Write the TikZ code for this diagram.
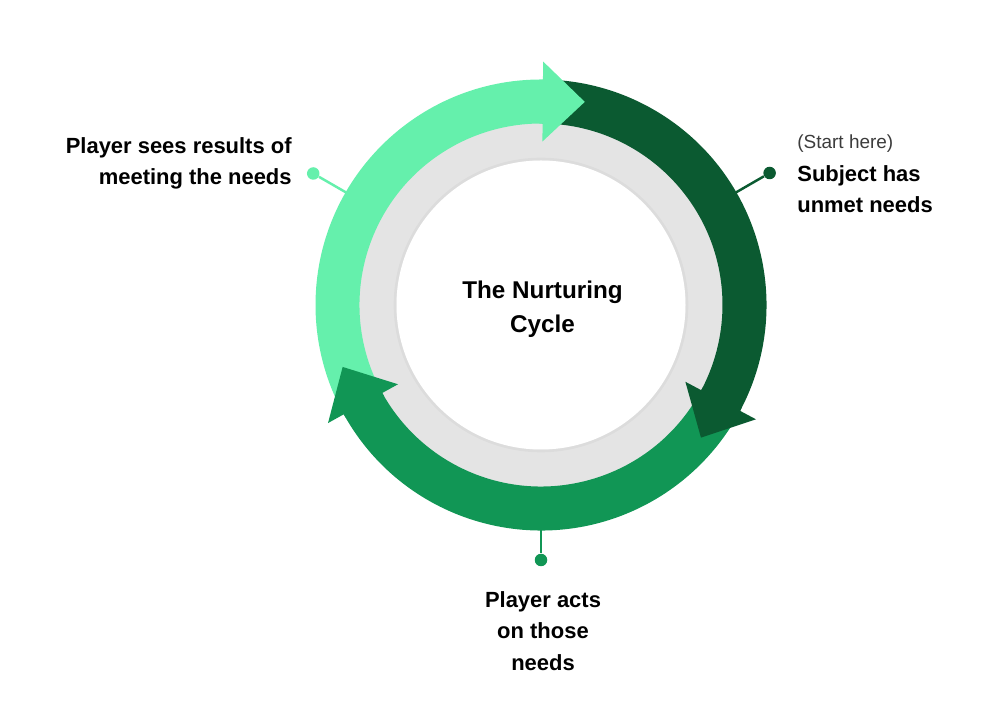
\documentclass[tikz,border=0pt]{standalone}
\usepackage{fontspec}
\setmainfont{Liberation Sans}
\usepackage{tikz}
\usetikzlibrary{calc}

\definecolor{lightgreen}{RGB}{101,240,172}
\definecolor{midgreen}{RGB}{17,150,85}
\definecolor{darkgreen}{RGB}{11,90,49}
\definecolor{ringgray}{RGB}{228,228,228}
\definecolor{softgray}{RGB}{60,60,60}

\tikzset{
  dot/.style={circle, inner sep=0pt, minimum size=0.25cm},
  stem/.style={line width=1.4pt},
  label/.style={font=\bfseries\fontsize{12.5}{18}\selectfont, inner sep=0pt},
}

% one piece of the ring, from angle #2 to angle #3
\newcommand{\ringpart}[3]{
  \fill[#1] (#2:181.5) arc[start angle=#2, end angle=#3, radius=181.5]
    -- (#3:225.5) arc[start angle=#3, end angle=#2, radius=225.5] -- cycle;}
% arrow head whose base sits at angle #2 (overlaps its own shaft a little)
\newcommand{\ringhead}[2]{
  \fill[#1] ({#2+1}:181.5) -- (#2:181.5) -- (#2:163.5)
    -- ($(#2:203.5)+({#2-90}:42)$)
    -- (#2:243.5) -- (#2:225.5) -- ({#2+1}:225.5) -- cycle;}

\begin{document}
\begin{tikzpicture}[x=0.02cm, y=0.02cm]
  \useasboundingbox (-541,-407) rectangle (459,305);

  % grey ring and white middle
  \fill[ringgray] (0,0) circle (182);
  \fill[white] (0,0) circle (144.5);
  \draw[black, opacity=0.03, line width=1.5pt] (0,0) circle (146);
  \node[font=\bfseries\fontsize{13.8}{19.3}\selectfont, align=center, inner sep=0pt] (title) at (1.5,-4) {The Nurturing\\Cycle};

  % connectors
  \coordinate (lightfoot) at (150:225);
  \coordinate (darkfoot) at (30:225);
  \coordinate (midfoot) at (-90:225);
  \node[dot, fill=lightgreen] (lightdot) at (150:263) {};
  \node[dot, fill=darkgreen] (darkdot) at (30:264) {};
  \node[dot, fill=midgreen] (middot) at (-90:255) {};
  \draw[stem, lightgreen] (lightfoot) -- (lightdot);
  \draw[stem, darkgreen] (darkfoot) -- (darkdot);
  \draw[stem, midgreen] (midfoot) -- (middot);

  % the three arrows
  \ringpart{lightgreen}{209}{88.5}
  \ringpart{darkgreen}{89.5}{-29}
  \ringpart{midgreen}{-28}{-152}
  \ringhead{lightgreen}{89.5}
  \ringhead{darkgreen}{-28}
  \ringhead{midgreen}{-151}

  % labels
  \node[label, align=right, anchor=north east] (results) at (-249,168) {Player sees results of\\meeting the needs};
  \node[font=\fontsize{10.8}{13}\selectfont, text=softgray, inner sep=0pt, anchor=base west] (start) at (256,156) {(Start here)};
  \node[label, align=left, anchor=north west] (subject) at (256,140) {Subject has\\unmet needs};
  \node[label, align=center, anchor=north] (acts) at (2,-286) {Player acts\\on those\\needs};
\end{tikzpicture}
\end{document}
